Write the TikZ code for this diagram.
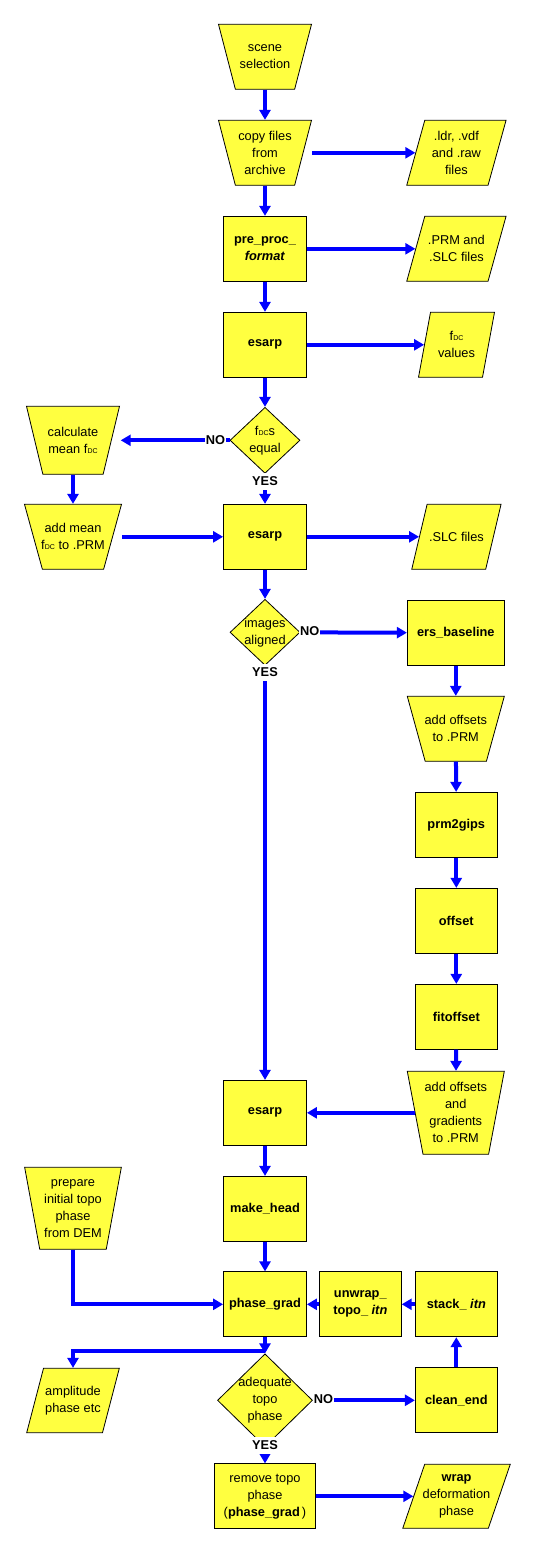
\documentclass[tikz,border=0pt]{standalone}
\usepackage{fontspec}
\setmainfont{Liberation Sans}
\usetikzlibrary{shapes.geometric,arrows.meta}
\definecolor{boxyellow}{RGB}{255,255,64}
\definecolor{arrblue}{RGB}{0,0,255}
\newcommand{\flowfont}{\fontsize{12.8}{17}\selectfont}
\newcommand{\fdc}{f\kern0.2pt{\fontsize{7}{7}\selectfont DC}}
\begin{document}
\begin{tikzpicture}[x=1pt,y=-1pt,
  shp/.style={draw=black, line width=0.8pt, fill=boxyellow, inner sep=1pt},
  proc/.style={shp, rectangle, minimum width=83pt, minimum height=65pt, align=center, font=\flowfont\bfseries},
  man/.style={shp, trapezium, shape border rotate=180, trapezium left angle=#1, trapezium right angle=#1, trapezium stretches=true},
  data/.style={shp, trapezium, trapezium stretches=true},
  dec/.style={shp, diamond, minimum width=70pt, minimum height=66pt},
  txt/.style={align=center, font=\flowfont, inner sep=0pt},
  arr/.style={draw=arrblue, line width=4pt, -{Triangle[length=10pt,width=11pt]}},
  yn/.style={fill=white, font=\flowfont\bfseries, inner sep=1pt, minimum height=17pt}
]
\useasboundingbox (0,0) rectangle (535,1553);

% main column (x=265), rows every 96
\node[man=74.1, minimum width=93pt, minimum height=65pt, label={[txt]center:{scene\\selection}}] (scene) at (265,56.8) {};
\node[man=74.1, minimum width=93pt, minimum height=65pt, label={[txt]center:{copy files\\from\\archive}}] (copy) at (265,152.8) {};
\node[proc] (pre) at (265,248.8) {pre\_proc\_\\\textit{format}};
\node[proc] (es1) at (265,344.8) {esarp};
\node[dec, label={[txt]center:{\fdc s\\equal}}] (d1) at (265,440.3) {};
\node[proc] (es2) at (265,536.8) {esarp};
\node[dec, label={[txt]center:{images\\aligned}}] (d2) at (265,632.3) {};
\node[proc] (es3) at (265,1112.8) {esarp};
\node[proc] (mh) at (265,1208.8) {make\_head};
\node[proc] (pg) at (265,1304.3) {phase\_grad};
\node[dec, minimum width=95pt, minimum height=93pt, label={[txt]center:{adequate\\topo\\phase}}] (d3) at (265,1400.3) {};
\node[proc, minimum width=101pt, font=\flowfont] (rm) at (265,1496.3) {remove topo\\phase\\(\textbf{phase\_grad}\,)};

% right column (x=456)
\node[data, trapezium left angle=74.1, trapezium right angle=105.9, minimum width=99.3pt, minimum height=65pt, label={[txt]center:{.ldr, .vdf\\and .raw\\files}}] (ldr) at (456.4,152.8) {};
\node[data, trapezium left angle=74.1, trapezium right angle=105.9, minimum width=99.3pt, minimum height=65pt, label={[txt]center:{.PRM and\\.SLC files}}] (prm) at (456.4,248.8) {};
\node[data, trapezium left angle=77, trapezium right angle=103, minimum width=76pt, minimum height=65pt, label={[txt]center:{\fdc\\values}}] (fdcv) at (456.5,344.8) {};
\node[data, trapezium left angle=75.3, trapezium right angle=104.7, minimum width=89.3pt, minimum height=65pt, label={[txt]center:{.SLC files}}] (slc) at (456.4,536.8) {};
\node[proc, minimum width=97pt] (ers) at (455.8,632.8) {ers\_baseline};
\node[man=73.7, minimum width=97pt, minimum height=65pt, label={[txt]center:{add offsets\\to .PRM}}] (ao) at (455.8,728.8) {};
\node[proc, minimum width=82pt] (p2g) at (456.3,824.8) {prm2gips};
\node[proc, minimum width=82pt] (off) at (456.3,920.8) {offset};
\node[proc, minimum width=82pt] (fit) at (456.3,1016.8) {fitoffset};
\node[man=76.5, minimum width=97pt, minimum height=83pt, label={[txt]center:{add offsets\\and\\gradients\\to .PRM}}] (aog) at (455.8,1112.8) {};
\node[proc, minimum width=82pt] (unw) at (360.3,1304.3) {unwrap\_\\topo\_ \textit{itn}};
\node[proc, minimum width=82pt] (stk) at (456.3,1304.3) {stack\_ \textit{itn}};
\node[proc, minimum width=82pt] (ce) at (456.3,1400.3) {clean\_end};
\node[data, trapezium left angle=71, trapezium right angle=109, minimum width=107.5pt, minimum height=64pt, label={[txt]center:{\textbf{wrap}\\deformation\\phase}}] (wrap) at (456.5,1496.3) {};

% left column (x=73)
\node[man=74.8, minimum width=93pt, minimum height=68pt, label={[txt]center:{calculate\\mean \fdc}}] (calc) at (73,440.3) {};
\node[man=73.7, minimum width=97pt, minimum height=65pt, label={[txt]center:{add mean\\\fdc{} to .PRM}}] (am) at (73,536.8) {};
\node[man=77.2, minimum width=96.7pt, minimum height=82pt, label={[txt]center:{prepare\\initial topo\\phase\\from DEM}}] (prep) at (73,1208.3) {};
\node[data, trapezium left angle=74.1, trapezium right angle=105.9, minimum width=92.6pt, minimum height=64.4pt, label={[txt]center:{amplitude\\phase etc}}] (amp) at (73,1400.5) {};

\coordinate (j) at (265,1350.5);

% connectors
\draw[arr] (scene) -- (copy);
\draw[arr, shorten <=9pt] (copy) -- (ldr);
\draw[arr] (copy) -- (pre);
\draw[arr] (pre) -- (prm);
\draw[arr] (pre) -- (es1);
\draw[arr] (es1) -- (fdcv);
\draw[arr] (es1) -- (d1);
\draw[arr, shorten >=9pt] (d1) -- (calc);
\draw[arr] (calc) -- (am);
\draw[arr, shorten <=9.5pt] (am) -- (es2);
\draw[arr] (d1) -- (es2);
\draw[arr] (es2) -- (slc);
\draw[arr] (es2) -- (d2);
\draw[arr] (d2) -- (ers);
\draw[arr] (d2) -- (es3);
\draw[arr] (ers) -- (ao);
\draw[arr] (ao) -- (p2g);
\draw[arr] (p2g) -- (off);
\draw[arr] (off) -- (fit);
\draw[arr] (fit) -- (aog);
\draw[arr] (aog) -- (es3);
\draw[arr] (es3) -- (mh);
\draw[arr] (mh) -- (pg);
\draw[arr] (prep) |- (pg);
\draw[arr] (unw) -- (pg);
\draw[arr] (stk) -- (unw);
\draw[arr] (ce) -- (stk);
\draw[arr] (pg) -- (d3);
\draw[arr] (j) -| (amp);
\draw[arr] (d3) -- (ce);
\draw[arr] (d3) -- (rm);
\draw[arr] (rm) -- (wrap);

% labels
\node[yn] (no1) at (215.5,439.8) {NO};
\node[yn] (yes1) at (265,481.5) {YES};
\node[yn] (no2) at (309.7,631.5) {NO};
\node[yn] (yes2) at (265,672) {YES};
\node[yn] (no3) at (323.5,1399.3) {NO};
\node[yn] (yes3) at (265,1445) {YES};
\end{tikzpicture}
\end{document}
